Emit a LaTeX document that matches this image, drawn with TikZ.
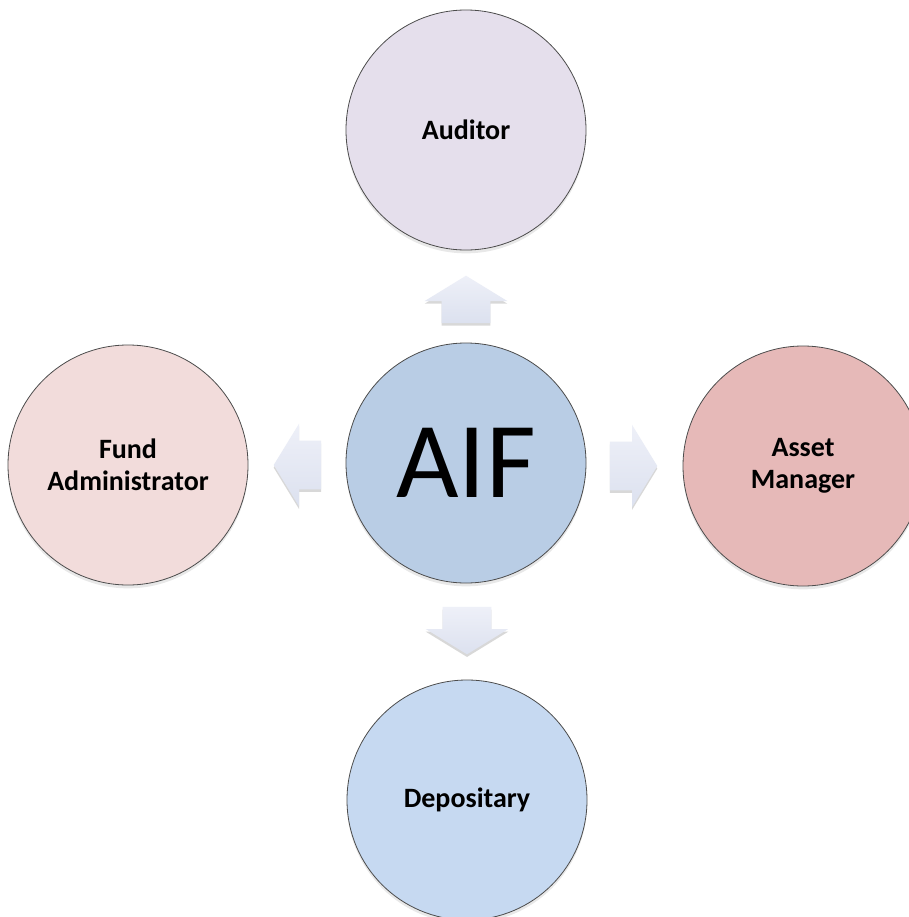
\documentclass[tikz,border=0pt]{standalone}
\usepackage{fontspec}
\setmainfont{Carlito}
\usetikzlibrary{calc,shapes.arrows,shadows}

\definecolor{audfill}{HTML}{E5DFEC}
\definecolor{fundfill}{HTML}{F2DCDB}
\definecolor{assetfill}{HTML}{E6B9B8}
\definecolor{aiffill}{HTML}{B9CDE5}
\definecolor{depfill}{HTML}{C6D9F1}
\definecolor{arrowtop}{HTML}{EEF0F8}
\definecolor{arrowbot}{HTML}{DCE1EF}

\tikzset{
  party/.style={circle, draw=black!70, line width=0.6pt, minimum size=180pt,
    inner sep=0pt, align=center, font=\fontsize{21}{24}\selectfont\bfseries,
    drop shadow={opacity=0.18, shadow xshift=0pt, shadow yshift=-2.5pt}},
  blockarrow/.style={single arrow, draw=none, minimum height=35.5pt, anchor=tip,
    single arrow head extend=12.75pt, single arrow tip angle=117,
    top color=arrowtop, bottom color=arrowbot,
    drop shadow={opacity=0.3, shadow xshift=0pt, shadow yshift=-2pt}},
  harrow/.style={blockarrow, inner xsep=0pt, inner ysep=18pt},
  varrow/.style={blockarrow, inner xsep=18pt, inner ysep=0pt}
}

\begin{document}
\begin{tikzpicture}[x=0.75pt,y=-0.75pt]
  \path[use as bounding box, clip] (0,0) rectangle (909,917);
  \fill[white] (0,0) rectangle (909,917);

  \node[party, fill=aiffill, font=\fontsize{81}{90}\selectfont] (aif) at (466,463) {AIF};
  \node[party, fill=audfill] (aud) at (466,130) {Auditor};
  \node[party, fill=fundfill] (fund) at (128,465) {Fund\\Administrator};
  \node[party, fill=assetfill] (asset) at (803,466) {Asset\\Manager};
  \node[party, fill=depfill] (dep) at (467,800) {Depositary};

  % arrows point from the AIF out, tips 25px short of each party
  \node[varrow, shape border rotate=90] (toaud) at ($(aud.south)+(0,25)$) {};
  \node[harrow, shape border rotate=180] (tofund) at ($(fund.east)+(25,0)$) {};
  \node[harrow, shape border rotate=0] (toasset) at ($(asset.west)+(-25,0)$) {};
  \node[varrow, shape border rotate=270] (todep) at ($(dep.north)+(0,-25)$) {};
\end{tikzpicture}
\end{document}
